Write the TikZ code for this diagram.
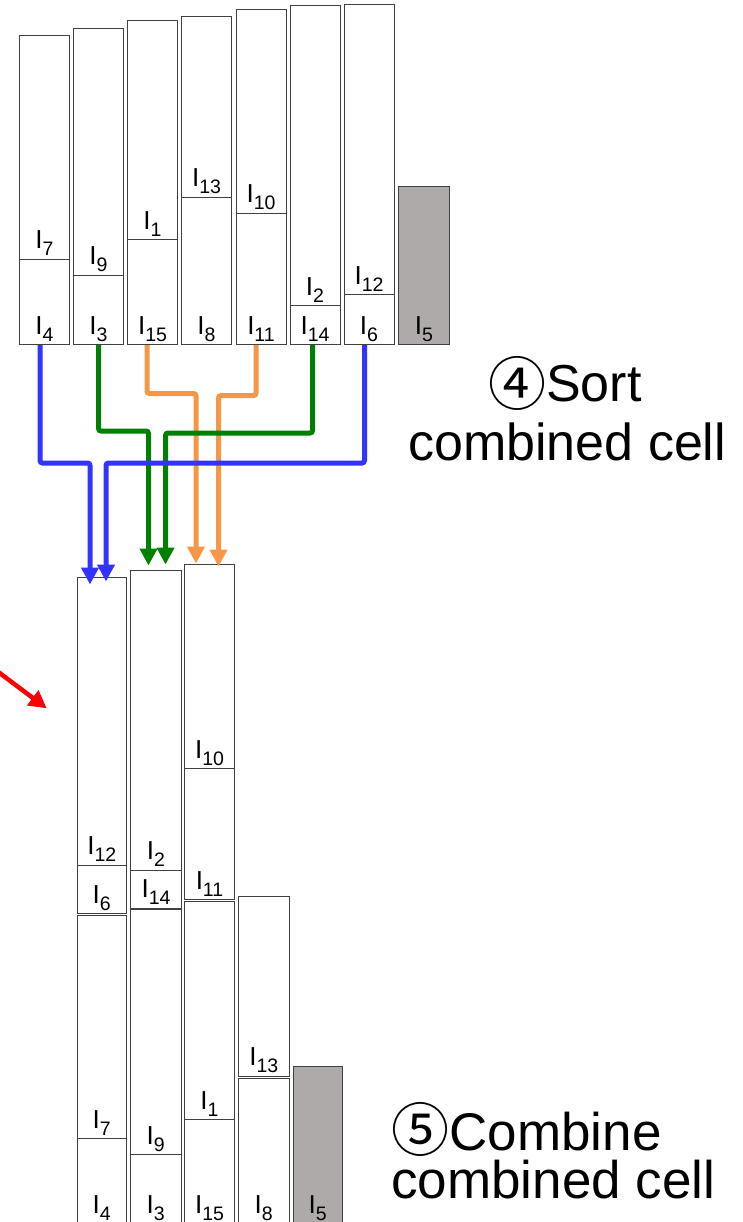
\documentclass[tikz,border=0pt]{standalone}
\usepackage{fontspec}
\setmainfont{Liberation Sans}
\newfontfamily\cjkfont{Noto Sans CJK JP}
\usetikzlibrary{arrows.meta,fit}
\definecolor{cellgrey}{RGB}{174,170,169}
\definecolor{arrblue}{RGB}{51,51,255}
\definecolor{arrgreen}{RGB}{0,128,0}
\definecolor{arrorange}{RGB}{247,150,70}
\definecolor{arrred}{RGB}{255,0,0}
\newcommand\Ilab[1]{I\raisebox{-7pt}{\fontsize{19.5pt}{20pt}\selectfont #1}}
\newcommand\cellnode[6]{\node[#1, fit={(#3,#4) (#5,#6)}] (#2) {};}
\newcommand\celllab[2]{\node[lab] (lab-#1) at ([yshift=11pt]#1.south) {\Ilab{#2}};}
\newcommand\circd[2]{\raisebox{#1}{\fontsize{58pt}{58pt}\cjkfont #2}}
\begin{document}
\begin{tikzpicture}[x=1pt,y=-1pt,
  cellbox/.style={draw=black!75, line width=1pt, fill=white, inner sep=0pt},
  greybox/.style={cellbox, fill=cellgrey},
  lab/.style={anchor=base, inner sep=0pt, font=\fontsize{26pt}{28pt}\selectfont},
  conn/.style={line width=5pt, rounded corners=2.5pt, -{Triangle[width=17pt,length=17pt]}},
  bigtext/.style={anchor=base west, inner sep=0pt, font=\fontsize{52pt}{56pt}\selectfont}
]
\useasboundingbox (0,0) rectangle (742,1222);

% ---- top row of cells ----
\cellnode{cellbox}{t1u}{19.5}{35.5}{69.5}{259.5}
\cellnode{cellbox}{t1l}{19.5}{259.5}{69.5}{344.5}
\cellnode{cellbox}{t2u}{73.5}{28.5}{123.5}{275.5}
\cellnode{cellbox}{t2l}{73.5}{275.5}{123.5}{344.5}
\cellnode{cellbox}{t3u}{127.5}{20.5}{177.5}{240}
\cellnode{cellbox}{t3l}{127.5}{240}{177.5}{344.5}
\cellnode{cellbox}{t4u}{181.5}{16.5}{231.5}{197.5}
\cellnode{cellbox}{t4l}{181.5}{197.5}{231.5}{344.5}
\cellnode{cellbox}{t5u}{236}{9.5}{286}{213.5}
\cellnode{cellbox}{t5l}{236}{213.5}{286}{344.5}
\cellnode{cellbox}{t6u}{290}{6}{340}{305.5}
\cellnode{cellbox}{t6l}{290}{305.5}{340}{344.5}
\cellnode{cellbox}{t7u}{344}{5}{394}{295}
\cellnode{cellbox}{t7l}{344}{295}{394}{344.5}
\cellnode{greybox}{t8}{398.5}{187}{449.5}{344.5}
\celllab{t1u}{7}\celllab{t1l}{4}
\celllab{t2u}{9}\celllab{t2l}{3}
\celllab{t3u}{1}\celllab{t3l}{15}
\celllab{t4u}{13}\celllab{t4l}{8}
\celllab{t5u}{10}\celllab{t5l}{11}
\celllab{t6u}{2}\celllab{t6l}{14}
\celllab{t7u}{12}\celllab{t7l}{6}
\celllab{t8}{5}

% ---- bottom row of combined cells ----
\cellnode{cellbox}{b1u}{77}{577.5}{126.5}{865}
\cellnode{cellbox}{b1m}{77}{865}{126.5}{913.5}
\cellnode{cellbox}{b1n}{77}{915.5}{126.5}{1138.5}
\cellnode{cellbox}{b1l}{77}{1138.5}{126.5}{1223.5}
\cellnode{cellbox}{b2u}{130.5}{570.5}{181.5}{870}
\cellnode{cellbox}{b2m}{130.5}{870}{181.5}{908}
\cellnode{cellbox}{b2n}{130.5}{909.5}{181}{1154.5}
\cellnode{cellbox}{b2l}{130.5}{1154.5}{181}{1223.5}
\cellnode{cellbox}{b3u}{184.5}{564.5}{234.5}{768.5}
\cellnode{cellbox}{b3m}{184.5}{768.5}{234.5}{899.5}
\cellnode{cellbox}{b3n}{184.5}{901}{234.5}{1119.5}
\cellnode{cellbox}{b3l}{184.5}{1119.5}{234.5}{1223.5}
\cellnode{cellbox}{b4u}{238.5}{896}{289}{1076}
\cellnode{cellbox}{b4l}{238.5}{1078}{289}{1223.5}
\cellnode{greybox}{b5}{293}{1066.5}{342.5}{1223.5}
\celllab{b1u}{12}\celllab{b1m}{6}\celllab{b1n}{7}\celllab{b1l}{4}
\celllab{b2u}{2}\celllab{b2m}{14}\celllab{b2n}{9}\celllab{b2l}{3}
\celllab{b3u}{10}\celllab{b3m}{11}\celllab{b3n}{1}\celllab{b3l}{15}
\celllab{b4u}{13}\celllab{b4l}{8}
\celllab{b5}{5}

% ---- connectors ----
\coordinate (sB1) at ([xshift=-4.5pt]t1l.south);
\coordinate (sB2) at ([xshift=-4.5pt]t7l.south);
\coordinate (sG1) at (t2l.south);
\coordinate (sG2) at ([xshift=-2.5pt]t6l.south);
\coordinate (sO1) at ([xshift=-5.5pt]t3l.south);
\coordinate (sO2) at ([xshift=-5pt]t5l.south);
\coordinate (eB1) at ([xshift=-11.75pt,yshift=-7.5pt]b1u.north);
\coordinate (eB2) at ([xshift=4.25pt,yshift=-4.5pt]b1u.north);
\coordinate (eG1) at ([xshift=-7.5pt,yshift=4.5pt]b2u.north);
\coordinate (eG2) at ([xshift=9.5pt,yshift=5.5pt]b2u.north);
\coordinate (eO1) at ([xshift=-13.5pt,yshift=0.5pt]b3u.north);
\coordinate (eO2) at ([xshift=9pt,yshift=-2.5pt]b3u.north);
\coordinate (yB) at (0,463);
\coordinate (yG1) at (0,431);
\coordinate (yG2) at (0,433);
\coordinate (yO1) at (0,393.5);
\coordinate (yO2) at (0,395.5);

\draw[conn, arrorange] (sO1) -- (sO1 |- yO1) -| (eO1);
\draw[conn, arrorange] (sO2) -- (sO2 |- yO2) -| (eO2);
\draw[conn, arrgreen] (sG1) -- (sG1 |- yG1) -| (eG1);
\draw[conn, arrgreen] (sG2) -- (sG2 |- yG2) -| (eG2);
\draw[conn, arrblue] (sB1) -- (sB1 |- yB) -| (eB1);
\draw[conn, arrblue] (sB2) -- (sB2 |- yB) -| (eB2);

% ---- red arrow ----
\coordinate (rs) at (-3,671);
\coordinate (re) at (46.7,708.3);
\draw[arrred, line width=4.5pt, -{Triangle[width=18pt,length=17.5pt]}] (rs) -- (re);

% ---- captions ----
\node[bigtext, text depth=0pt] (cap4a) at (488,401.7) {\circd{-4pt}{④}Sort};
\node[bigtext, text height=37pt] (cap4b) at (408,460) {combined cell};
\node[bigtext, font=\fontsize{53pt}{56pt}\selectfont, text depth=0pt] (cap5a) at (391.3,1150) {\circd{-1pt}{⑤}Combine};
\node[bigtext, font=\fontsize{53pt}{56pt}\selectfont, text height=37pt] (cap5b) at (391,1198) {combined cell};
\end{tikzpicture}
\end{document}
